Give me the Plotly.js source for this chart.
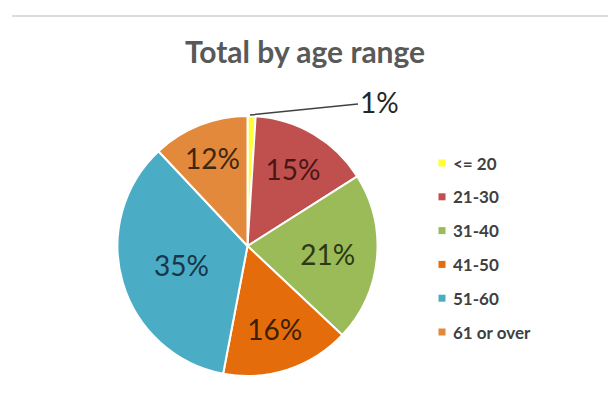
<!DOCTYPE html>
<html>
<head>
<meta charset="utf-8">
<script src="https://cdn.plot.ly/plotly-3.0.1.min.js"></script>
<style>html,body{margin:0;padding:0;background:#fff;}#chart{width:608px;height:410px;}</style>
</head>
<body>
<div id="chart"></div>
<script>
// Data
const categories = ["<= 20", "21-30", "31-40", "41-50", "51-60", "61 or over"];
const percentages = [1, 15, 21, 16, 35, 12];
const sliceColors = ["#ffff33", "#c0504d", "#9bbb59", "#e46c0a", "#4bacc6", "#e2893b"];
const labelColors = ["#262626", "#4a1616", "#2b3a12", "#3d1f06", "#17364a", "#3f2610"];
const chartTitle = "Total by age range";

const FONT = "Lato, 'Open Sans', sans-serif";
const W = 608, H = 410;

const pieText = percentages.map((v, i) => i === 0 ? "" : v + "%");

const trace = {
  type: "pie",
  labels: categories,
  values: percentages,
  text: pieText,
  textinfo: "text",
  textposition: "inside",
  insidetextorientation: "horizontal",
  sort: false,
  direction: "clockwise",
  rotation: 0,
  marker: { colors: sliceColors, line: { color: "#ffffff", width: 2 } },
  textfont: { family: FONT, size: 28, color: labelColors },
  domain: { x: [117.5 / W, 377.5 / W], y: [(H - 376) / H, (H - 116) / H] },
  showlegend: false,
  hoverinfo: "label+percent"
};

// Manual legend (shapes + annotations) built from the arrays
const shapes = [
  { type: "line", xref: "paper", yref: "paper", x0: 12 / W, x1: 1, y0: 1 - 16 / H, y1: 1 - 16 / H,
    line: { color: "#dcdcdc", width: 2 } }
];
const annotations = [];
const legY0 = 163, legStep = 33.8, legX = 442;
categories.forEach((c, i) => {
  const y = legY0 + i * legStep;
  shapes.push({ type: "rect", xref: "paper", yref: "paper",
    x0: (legX - 3.5) / W, x1: (legX + 3.5) / W, y0: 1 - (y + 3.5) / H, y1: 1 - (y - 3.5) / H,
    fillcolor: sliceColors[i], line: { width: 0 } });
  annotations.push({ xref: "paper", yref: "paper", x: (legX + 9) / W, y: 1 - y / H,
    xanchor: "left", yanchor: "middle", showarrow: false, text: c,
    font: { family: FONT, size: 17, color: "#404040", weight: 700 } });
});

// 1% label with leader line
annotations.push({ xref: "paper", yref: "paper", x: 250 / W, y: 1 - 115 / H,
  text: percentages[0] + "%", showarrow: true, arrowhead: 0, arrowwidth: 1.5,
  arrowcolor: "#404040", ax: 129, ay: -13, standoff: 0,
  font: { family: FONT, size: 28, color: "#262626" } });

const layout = {
  width: W, height: H,
  margin: { l: 0, r: 0, t: 0, b: 0 },
  paper_bgcolor: "#ffffff",
  title: { text: chartTitle, x: 305 / W, xanchor: "center", yref: "container", y: 1 - 52 / H, yanchor: "middle",
    font: { family: FONT, size: 30, color: "#595959", weight: 700 } },
  shapes: shapes,
  annotations: annotations
};

Plotly.newPlot("chart", [trace], layout, { displayModeBar: false, staticPlot: true });
</script>
</body>
</html>
